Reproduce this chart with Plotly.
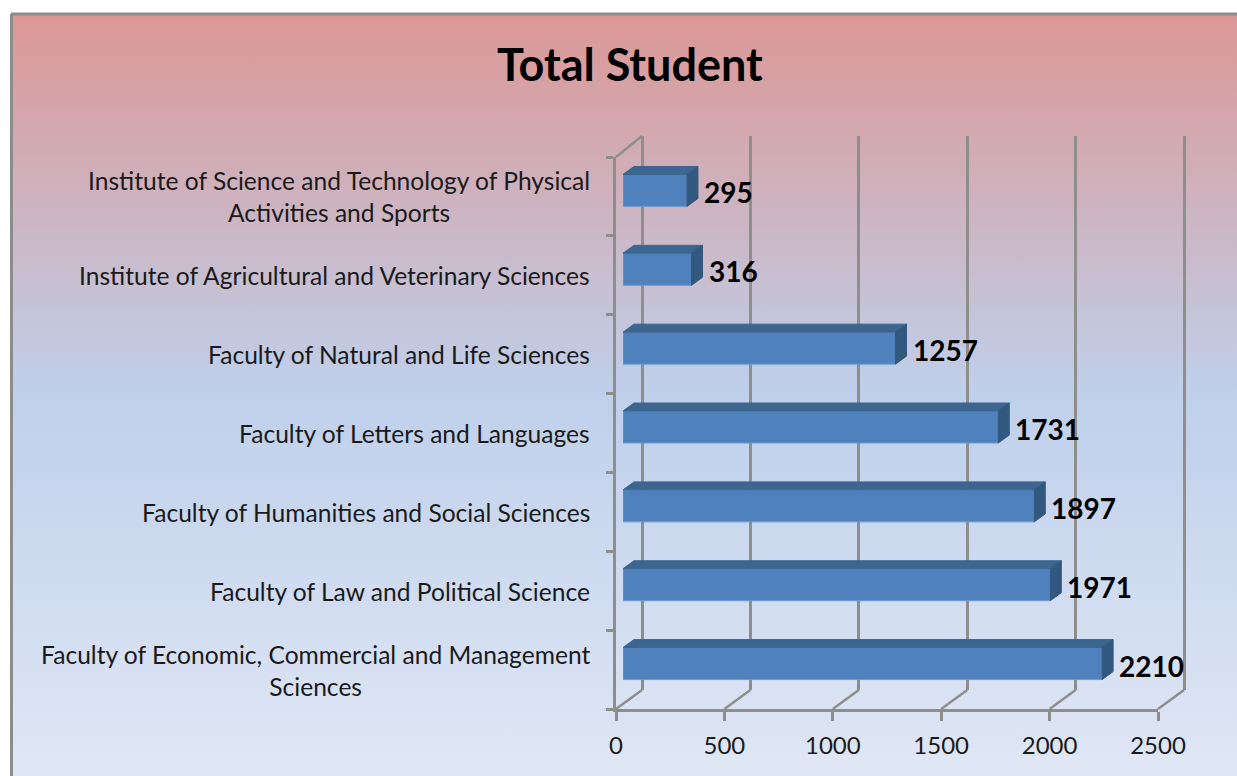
"""Total Student: horizontal pseudo-3D bar chart on a gradient panel."""
import plotly.graph_objects as go

# ── Data ───────────────────────────────────────────────────────────────────────
CATEGORIES = [
    "Faculty of Economic, Commercial and Management<br>Sciences",
    "Faculty of Law and Political Science",
    "Faculty of Humanities and Social Sciences",
    "Faculty of Letters and Languages",
    "Faculty of Natural and Life Sciences",
    "Institute of Agricultural and Veterinary Sciences",
    "Institute of Science and Technology of Physical<br>Activities and Sports",
]
STUDENTS = [2210, 1971, 1897, 1731, 1257, 316, 295]
X_TICKS = [0, 500, 1000, 1500, 2000, 2500]

# ── Style ──────────────────────────────────────────────────────────────────────
W, H = 1237, 776
FONT = "Lato"
GREY = "#8E8F8D"
FRONT = "#4F81BD"
TOP = "#3C6590"
SIDE = "#33587F"
GRADIENT = [
    [0.00, "#DC9795"],
    [0.50, "#BFD0EB"],
    [1.00, "#E0E7F5"],
]
BAR_WIDTH = 0.406
DEPTH_X = 50.7   # 11 px in x units
DEPTH_Y = 0.101  # 8 px in category units
LINE = 2.5


def dom_x(a, b):
    return [a / W, b / W]


def dom_y(top, bottom):
    return [1 - bottom / H, 1 - top / H]


hidden = dict(visible=False, fixedrange=True, automargin=False)
index = list(range(len(CATEGORIES)))
fig = go.Figure()

# gradient panel
fig.add_trace(go.Scatter(
    x=[0, 1, 1, 0, 0], y=[0, 0, 1, 1, 0], mode="none", fill="toself",
    fillgradient=dict(type="vertical", colorscale=GRADIENT, start=1, stop=0),
    hoverinfo="skip", xaxis="x", yaxis="y",
))
# back wall, grid only
fig.add_trace(go.Scatter(x=[None], y=[None], xaxis="x2", yaxis="y2", hoverinfo="skip"))
# front axes
fig.add_trace(go.Scatter(x=[None], y=[None], xaxis="x3", yaxis="y3", hoverinfo="skip"))

# bars: front faces plus the two visible depth faces
fig.add_trace(go.Bar(
    x=STUDENTS, y=index, orientation="h", width=BAR_WIDTH,
    marker=dict(color=FRONT, line=dict(color="#6E9BD1", width=1)),
    xaxis="x4", yaxis="y4",
))
top_x, top_y, side_x, side_y = [], [], [], []
for v, i in zip(STUDENTS, index):
    t, b = i + BAR_WIDTH / 2, i - BAR_WIDTH / 2
    top_x += [0, DEPTH_X, v + DEPTH_X, v, 0, None]
    top_y += [t, t + DEPTH_Y, t + DEPTH_Y, t, t, None]
    side_x += [v, v + DEPTH_X, v + DEPTH_X, v, v, None]
    side_y += [t, t + DEPTH_Y, b + DEPTH_Y, b, t, None]
for xs, ys, col in [(top_x, top_y, TOP), (side_x, side_y, SIDE)]:
    fig.add_trace(go.Scatter(
        x=xs, y=ys, mode="lines", fill="toself", fillcolor=col,
        line=dict(color=col, width=1), hoverinfo="skip",
        xaxis="x4", yaxis="y4", cliponaxis=False,
    ))

# ── Layout ─────────────────────────────────────────────────────────────────────
shapes = [
    # panel frame, left and top only
    dict(type="line", xref="paper", yref="paper", x0=11.5 / W, x1=11.5 / W, y0=0, y1=1 - 14 / H,
         line=dict(color="#8C8C8C", width=3)),
    dict(type="line", xref="paper", yref="paper", x0=11 / W, x1=1, y0=1 - 14 / H, y1=1 - 14 / H,
         line=dict(color="#8C8C8C", width=3)),
    # link between side wall top and back wall
    dict(type="line", xref="paper", yref="paper", x0=616 / W, x1=642 / W,
         y0=1 - 157 / H, y1=1 - 136 / H, line=dict(color=GREY, width=LINE)),
]
# floor diagonals
for t in X_TICKS:
    px = 616 + t * 542 / 2500
    shapes.append(dict(type="line", xref="paper", yref="paper", x0=px / W, x1=(px + 26) / W,
                       y0=1 - 709 / H, y1=1 - 690 / H, line=dict(color=GREY, width=LINE)))

annotations = [dict(
    text="<b>Total Student</b>", xref="paper", yref="paper", x=630 / W, y=1 - 64 / H,
    xanchor="center", yanchor="middle", showarrow=False,
    font=dict(family=FONT, size=45, color="black"),
)]
for cat, i in zip(CATEGORIES, index):
    annotations.append(dict(
        text=cat, xref="paper", yref="y4", x=592 / W, y=i, yshift=-6.5,
        xanchor="right", yanchor="middle", align="center", showarrow=False,
        font=dict(family=FONT, size=24.6, color="#1A1A1A"),
    ))
for v, i in zip(STUDENTS, index):
    annotations.append(dict(
        text=f"<b>{v}</b>", xref="x4", yref="y4", x=v, y=i, xshift=15, yshift=-2,
        xanchor="left", yanchor="middle", showarrow=False,
        font=dict(family=FONT, size=28, color="black"),
    ))

fig.update_layout(
    template="none",
    width=W, height=H,
    margin=dict(l=0, r=0, t=0, b=0, pad=0),
    paper_bgcolor="white",
    plot_bgcolor="rgba(0,0,0,0)",
    showlegend=False,
    shapes=shapes,
    annotations=annotations,
    xaxis=dict(domain=dom_x(11, W), range=[0, 1], **hidden),
    yaxis=dict(domain=dom_y(14, H), range=[0, 1], **hidden),
    # padded by 100 units either side so the grid lines at 0 and 2500 are kept
    xaxis2=dict(domain=dom_x(642 - 21.68, 1184 + 21.68), range=[-100, 2600], anchor="y2",
                tickvals=X_TICKS, showgrid=True, gridcolor=GREY, gridwidth=LINE, zeroline=False,
                showline=False, showticklabels=False, ticks="", fixedrange=True, automargin=False),
    yaxis2=dict(domain=dom_y(136, 690), anchor="x2", range=[0, 1], **hidden),
    xaxis3=dict(domain=dom_x(616, 1158), range=[0, 2500], anchor="y3", tickvals=X_TICKS,
                showgrid=False, zeroline=False, showline=True, linecolor=GREY, linewidth=LINE,
                ticks="outside", ticklen=9, tickwidth=LINE, tickcolor=GREY,
                tickfont=dict(family=FONT, size=24, color="#1A1A1A"),
                ticklabelstandoff=4, fixedrange=True, automargin=False),
    yaxis3=dict(domain=dom_y(157, 709), anchor="x3", range=[-0.5, 6.5],
                tickvals=[i - 0.5 for i in index] + [6.5], showgrid=False, zeroline=False,
                showline=True, linecolor=GREY, linewidth=LINE,
                ticks="outside", ticklen=7, tickwidth=LINE, tickcolor=GREY,
                showticklabels=False, fixedrange=True, automargin=False),
    xaxis4=dict(domain=dom_x(623, 1165), range=[0, 2500], anchor="y4", **hidden),
    yaxis4=dict(domain=dom_y(151, 703), range=[-0.5, 6.5], anchor="x4", **hidden),
)

fig.write_html("out.html", post_script="document.body.style.margin='0';", config=dict(displayModeBar=False))
